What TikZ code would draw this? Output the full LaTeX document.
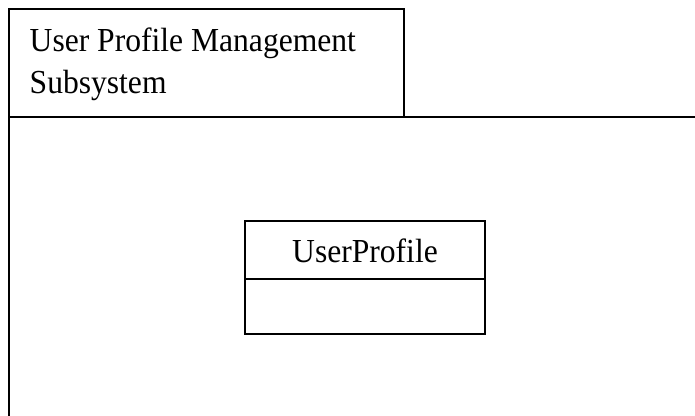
\documentclass[tikz,border=0pt]{standalone}
\usepackage{graphicx}
\usepackage{fontspec}
\setmainfont{Liberation Serif}
\newcommand{\sqz}[1]{\scalebox{0.94}[1]{#1}}
\begin{document}
\begin{tikzpicture}[x=1pt,y=-1pt]
\tikzset{
  pkgline/.style={draw=black,line width=2pt},
  lbl/.style={font=\fontsize{33.6}{41}\selectfont, inner sep=0pt, anchor=base west},
  boxshape/.style={pkgline, inner sep=0pt, outer sep=0pt, anchor=north west}
}
\useasboundingbox (0,0) rectangle (695,415);
% package tab
\node[boxshape, minimum width=395pt, minimum height=108pt] (tab) at (9,9) {};
\node[lbl] (t1) at (29.5,51.7) {\sqz{User Profile Management}};
\node[lbl] (t2) at (29.5,93.3) {\sqz{Subsystem}};
% package body (extends past the picture)
\coordinate (bl) at (9,416);
\coordinate (tr) at (696,117);
\draw[pkgline] (bl) -- (tab.south west) -- (tr);
% class
\node[boxshape, minimum width=240pt, minimum height=113pt] (cls) at (245,221) {};
\coordinate (dl) at (245,279);
\coordinate (dr) at (485,279);
\draw[pkgline] (dl) -- (dr);
\node[lbl, anchor=base] (cname) at (365,262) {\sqz{UserProfile}};
\end{tikzpicture}
\end{document}
